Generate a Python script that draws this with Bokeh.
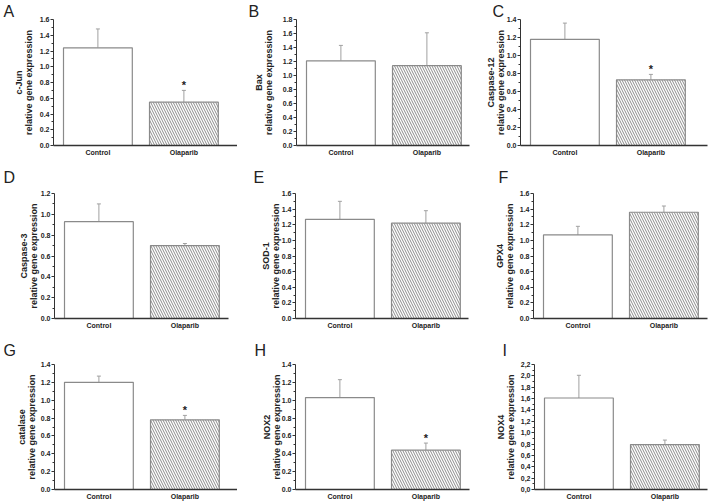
from bokeh.plotting import figure
from bokeh.layouts import column, row
from bokeh.models import (Range1d, FixedTicker, NumeralTickFormatter,
                          CustomJSTickFormatter, Whisker, TeeHead, ColumnDataSource)
from bokeh.core.properties import value
from bokeh.embed import file_html
from bokeh.resources import INLINE

# ---------------- data ----------------
categories = ["Control", "Olaparib"]
panel_letters = ["A", "B", "C", "D", "E", "F", "G", "H", "I"]
genes = ["c-Jun", "Bax", "Caspase-12", "Caspase-3", "SOD-1", "GPX4", "catalase", "NOX2", "NOX4"]
control_mean = [1.24, 1.21, 1.18, 0.93, 1.27, 1.07, 1.20, 1.03, 1.61]
control_sd = [0.24, 0.22, 0.18, 0.17, 0.23, 0.11, 0.07, 0.20, 0.40]
olaparib_mean = [0.55, 1.14, 0.73, 0.70, 1.22, 1.36, 0.78, 0.44, 0.79]
olaparib_sd = [0.15, 0.47, 0.06, 0.02, 0.16, 0.08, 0.05, 0.08, 0.08]
y_max = [1.6, 1.8, 1.4, 1.2, 1.6, 1.6, 1.4, 1.4, 2.2]
tick_step = 0.2
significant = [True, False, True, False, False, False, True, True, False]
decimal_mark = [".", ".", ".", ".", ".", ".", ".", ".", ","]

# ---------------- layout / style ----------------
FONT = "Liberation Sans"
TEXT = "#222222"
PPU = 86.0           # pixels per category unit
BAR_OFFSET = 10.0    # px from frame left to first bar
COL_LEFT = [0, 237, 470]
COL_W = [237, 233, 238]
ROW_H = [158, 175, 169]
ROW_TOP = [19, 33, 30]
FRAME_H = 127
frame_left_page = [53, 296, 520, 54, 295, 533, 54, 295, 534]
frame_right_page = [237, 469, 707, 228, 468, 707, 237, 469, 707]
label_standoff = [3, 6, -2, -1, -2, 2, 1, -3, 2]
letter_dx = [-50, -48, -28, -51, -42, -35, -51, -41, -32]
letter_standoff = [0, 16, 12]

x_pos = [i + 0.5 for i in range(len(categories))]

rows = []
for r in range(3):
    figs = []
    for c in range(3):
        i = r * 3 + c
        fl = frame_left_page[i]
        fr = frame_right_page[i]
        b_left = fl - COL_LEFT[c]
        b_right = COL_LEFT[c] + COL_W[c] - fr
        b_top = ROW_TOP[r]
        b_bottom = ROW_H[r] - b_top - FRAME_H
        fw = fr - fl
        x0 = 0.5 - (BAR_OFFSET + 0.4 * PPU) / PPU
        ymax = y_max[i]
        p = figure(width=COL_W[c], height=ROW_H[r], output_backend="svg", toolbar_location=None,
                   title=panel_letters[i], min_border_left=b_left, min_border_right=b_right,
                   min_border_top=b_top, min_border_bottom=b_bottom,
                   x_range=Range1d(x0, x0 + fw / PPU), y_range=Range1d(0, ymax))
        p.outline_line_color = None
        p.grid.visible = False
        p.background_fill_color = "white"

        # panel letter as the plot title
        p.title.align = "left"
        p.title.offset = letter_dx[i]
        p.title.standoff = letter_standoff[r]
        p.title.text_font = FONT
        p.title.text_font_size = "16px"
        p.title.text_font_style = "normal"
        p.title.text_color = TEXT
        p.title.text_line_height = 1.0

        means = [control_mean[i], olaparib_mean[i]]
        sds = [control_sd[i], olaparib_sd[i]]
        src = ColumnDataSource(dict(x=x_pos, top=means,
                                    upper=[m + s for m, s in zip(means, sds)]))

        p.add_layout(Whisker(base="x", lower="top", upper="upper", source=src,
                             dimension="height", line_color="#a0a0a0", line_width=1,
                             upper_head=TeeHead(size=4, line_color="#a0a0a0", line_width=1),
                             lower_head=None, level="underlay"))

        p.vbar(x=[x_pos[0]], top=[means[0]], width=0.8, bottom=0, fill_color="white",
               line_color="#8a8a8a", line_width=1.2)
        p.vbar(x=[x_pos[1]], top=[means[1]], width=0.8, bottom=0, fill_color="white",
               line_color="#8a8a8a", line_width=1.2, hatch_pattern="\\",
               hatch_color="#8c8c8c", hatch_scale=5, hatch_weight=1.0)

        if significant[i]:
            p.text(x=[x_pos[1]], y=[means[1] + sds[1]], text=["*"], text_align="center",
                   text_baseline="alphabetic", y_offset=-5,
                   text_font=value(FONT), text_font_size="11px", text_font_style="bold",
                   text_color=TEXT)

        # x axis
        xa = p.xaxis[0]
        xa.ticker = FixedTicker(ticks=x_pos)
        xa.major_label_overrides = {x: cat for x, cat in zip(x_pos, categories)}
        xa.major_tick_line_color = None
        xa.major_tick_out = 0
        xa.major_tick_in = 0
        xa.minor_tick_line_color = None
        xa.axis_line_color = "#333333"
        xa.axis_line_width = 1.6
        xa.major_label_standoff = 3
        xa.major_label_text_font = FONT
        xa.major_label_text_font_size = "7px"
        xa.major_label_text_font_style = "bold"
        xa.major_label_text_color = TEXT

        # y axis
        n_steps = int(round(ymax / tick_step))
        majors = [round(k * tick_step, 2) for k in range(n_steps + 1)]
        minors = [round((k + 0.5) * tick_step, 2) for k in range(n_steps)]
        ya = p.yaxis[0]
        ya.ticker = FixedTicker(ticks=majors, minor_ticks=minors)
        if decimal_mark[i] == ",":
            ya.formatter = CustomJSTickFormatter(code="return tick.toFixed(1).replace('.', ',')")
        else:
            ya.formatter = NumeralTickFormatter(format="0.0")
        ya.axis_line_color = "#333333"
        ya.axis_line_width = 1
        ya.major_tick_line_color = "#333333"
        ya.minor_tick_line_color = "#333333"
        ya.major_tick_out = 3
        ya.major_tick_in = 0
        ya.minor_tick_out = 2
        ya.minor_tick_in = 0
        ya.major_label_standoff = 1
        ya.major_label_text_font = FONT
        ya.major_label_text_font_size = "7px"
        ya.major_label_text_font_style = "bold"
        ya.major_label_text_color = TEXT
        ya.axis_label = f"{genes[i]}\nrelative gene expression"
        ya.axis_label_text_font = FONT
        ya.axis_label_text_font_size = "9px"
        ya.axis_label_text_font_style = "bold"
        ya.axis_label_text_color = TEXT
        ya.axis_label_text_line_height = 1.0
        ya.axis_label_standoff = label_standoff[i]

        figs.append(p)
    rows.append(row(*figs))

layout = column(*rows)
open("out.html", "w").write(file_html(layout, INLINE))
